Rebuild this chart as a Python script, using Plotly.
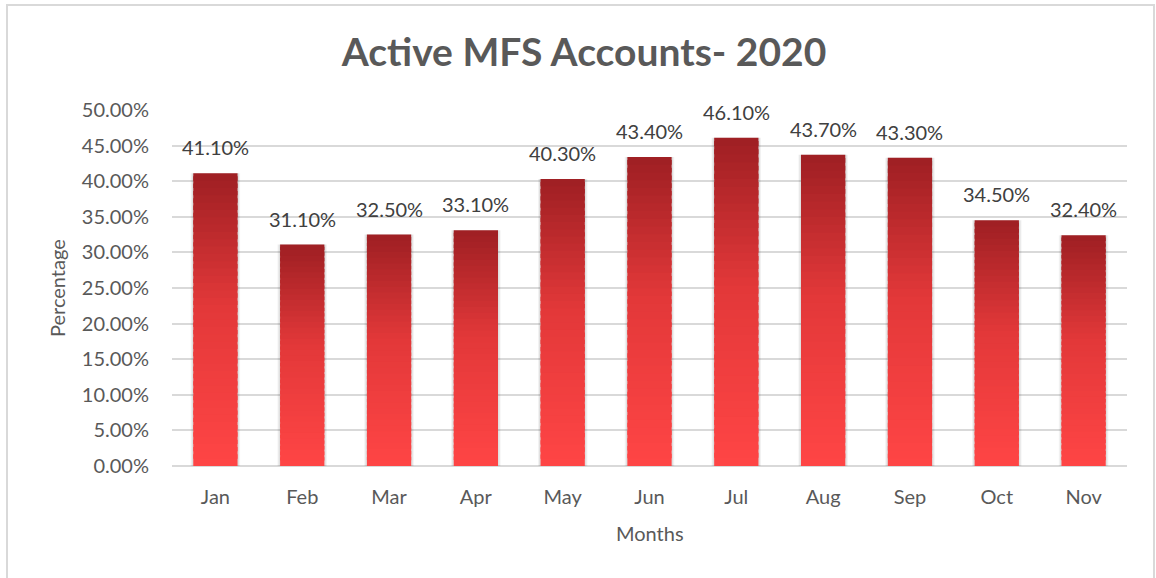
import plotly.graph_objects as go

months = ["Jan", "Feb", "Mar", "Apr", "May", "Jun", "Jul", "Aug", "Sep", "Oct", "Nov"]
values = [0.411, 0.311, 0.325, 0.331, 0.403, 0.434, 0.461, 0.437, 0.433, 0.345, 0.324]
y_ticks = [0.0, 0.05, 0.10, 0.15, 0.20, 0.25, 0.30, 0.35, 0.40, 0.45, 0.50]

FONT = "Lato"
TXT = "#595959"
TOP = (158, 31, 35)
MID = (226, 56, 57)
BOT = (255, 69, 69)
N = 40
BAR_W = 0.51

W, H = 1156, 578
L, R, T, B = 172, 29, 110, 112
PW, PH = W - L - R, H - T - B


def lerp(a, b, t):
    return tuple(round(a[i] + (b[i] - a[i]) * t) for i in range(3))


def grad(t):  # t: 0 bottom -> 1 top
    if t < 0.55:
        c = lerp(BOT, MID, t / 0.55)
    else:
        c = lerp(MID, TOP, (t - 0.55) / 0.45)
    return "rgb(%d,%d,%d)" % c


fig = go.Figure()

# soft shadow behind bars
for w, a in [(BAR_W + 0.06, 0.05), (BAR_W + 0.035, 0.07)]:
    fig.add_trace(go.Bar(x=months, y=values, width=w, base=0,
                         marker=dict(color="rgba(0,0,0,%s)" % a, line=dict(width=0)),
                         hoverinfo="skip", showlegend=False))

# gradient bars built from stacked (slightly overlapping) slices of each value
for k in range(N):
    h = 1.0 if k == N - 1 else 1.6
    fig.add_trace(go.Bar(
        x=months,
        y=[v * h / N for v in values],
        base=[v * k / N for v in values],
        width=BAR_W,
        marker=dict(color=grad((k + 0.5) / N), line=dict(width=0)),
        hoverinfo="skip", showlegend=False))

# data labels
for m, v in zip(months, values):
    fig.add_annotation(x=m, y=v, text="%.2f%%" % (v * 100), showarrow=False,
                       yanchor="middle", yshift=26,
                       font=dict(family=FONT, size=20, color="#404040"))

# axis titles
fig.add_annotation(x=(57 - L) / PW, y=0.5, xref="paper", yref="paper", text="Percentage",
                   textangle=-90, showarrow=False, xanchor="center", yanchor="middle",
                   font=dict(family=FONT, size=20, color=TXT))
fig.add_annotation(x=0.5, y=-(533 - (T + PH)) / PH, xref="paper", yref="paper",
                   text="Months", showarrow=False, xanchor="center", yanchor="middle",
                   font=dict(family=FONT, size=20, color=TXT))

# outer chart border
fig.add_shape(type="rect", xref="paper", yref="paper",
              x0=(7 - L) / PW, x1=(1154 - L) / PW,
              y0=-0.4, y1=(T + PH - 5) / PH,
              line=dict(color="#D9D9D9", width=2), fillcolor="rgba(0,0,0,0)", layer="below")

fig.update_layout(
    width=W, height=H,
    margin=dict(l=L, r=R, t=T, b=B),
    paper_bgcolor="white", plot_bgcolor="white",
    barmode="overlay",
    hovermode=False,
    title=dict(text="<b>Active MFS Accounts- 2020</b>", x=584 / W, xanchor="center",
               y=1 - 52 / H, yanchor="middle",
               font=dict(family=FONT, size=39, color=TXT)),
    font=dict(family=FONT, color=TXT),
)
fig.update_xaxes(type="category", categoryorder="array", categoryarray=months,
                 range=[-0.5, len(months) - 0.5],
                 showgrid=False, showline=False, zeroline=False,
                 ticks="", ticklabelstandoff=17,
                 tickfont=dict(family=FONT, size=20, color=TXT))
fig.update_yaxes(range=[0, 0.5], tickvals=y_ticks, tickformat=".2%",
                 showgrid=True, gridcolor="#D9D9D9", gridwidth=1.5,
                 zeroline=True, zerolinecolor="#D9D9D9", zerolinewidth=2,
                 showline=False, ticks="", ticklabelstandoff=22,
                 tickfont=dict(family=FONT, size=20, color=TXT))

# remove the browser's default 8px page margin so the figure fills the window
fig.write_html("out.html", config={"displayModeBar": False},
               post_script="document.body.style.margin='0';document.body.style.overflow='hidden';")
